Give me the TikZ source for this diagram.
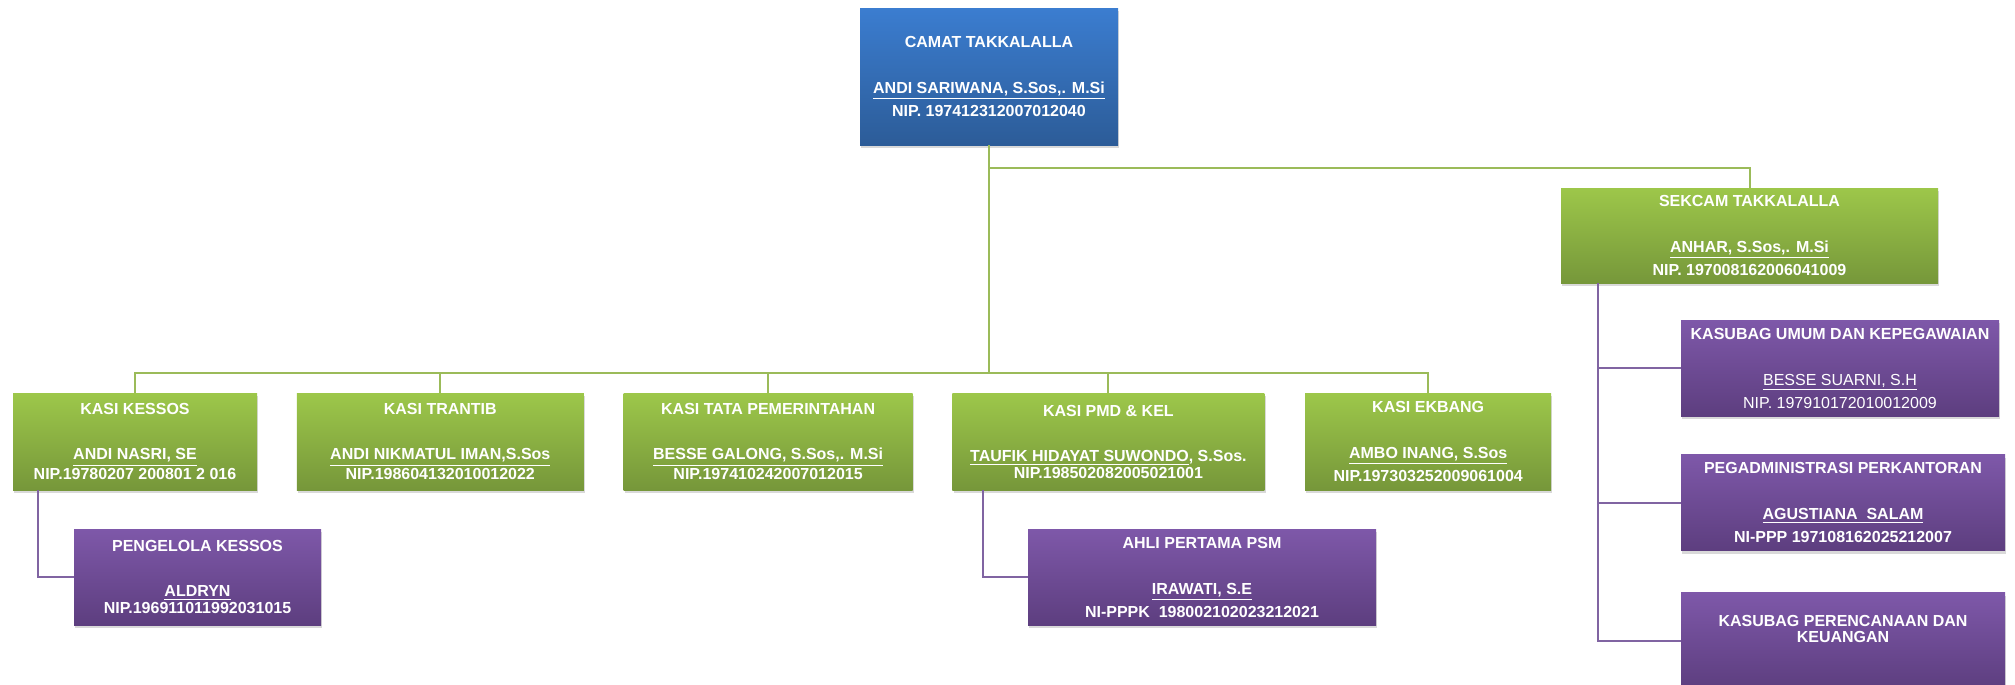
\documentclass[tikz,border=0pt]{standalone}
\usepackage{fontspec}
\setmainfont{Liberation Sans}
\usetikzlibrary{positioning,shadows}
\definecolor{birua}{HTML}{3B7DD0}
\definecolor{birub}{HTML}{2C5C98}
\definecolor{hijaua}{HTML}{9DC74A}
\definecolor{hijaub}{HTML}{76973A}
\definecolor{ungua}{HTML}{7E58A9}
\definecolor{ungub}{HTML}{5D3E7F}
\definecolor{linhijau}{HTML}{9BBB59}
\definecolor{linungu}{HTML}{8064A2}
\tikzset{
  teks/.style={text=white, align=center, inner sep=0pt, font=\bfseries\fontsize{8}{11.5}\selectfont},
  kotak/.style={teks, drop shadow={shadow xshift=0.6pt, shadow yshift=-1.5pt, opacity=0.3}},
  rapat/.style={font=\bfseries\fontsize{8}{8.5}\selectfont},
  biru/.style={kotak, top color=birua, bottom color=birub},
  hijau/.style={kotak, top color=hijaua, bottom color=hijaub},
  ungu/.style={kotak, top color=ungua, bottom color=ungub},
  garishijau/.style={draw=linhijau, line width=1pt},
  garisungu/.style={draw=linungu, line width=1pt},
}

\begin{document}
\begin{tikzpicture}[x=0.5pt,y=-0.5pt]
  \useasboundingbox (0,0) rectangle (2015,685);
  % camat dan sekcam
  \node[biru, minimum width=129pt, minimum height=68.5pt] (camat) at (989,76.5)
    {CAMAT TAKKALALLA\\[11.5pt]\underline{ANDI SARIWANA, S.Sos,. M.Si}\\NIP. 197412312007012040};
  \node[hijau, minimum width=188.5pt, minimum height=47.5pt] (sekcam) at (1749.5,235.5)
    {SEKCAM TAKKALALLA\\[11.5pt]\underline{ANHAR, S.Sos,. M.Si}\\NIP. 197008162006041009};
  % para kasi
  \node[hijau, rapat, minimum width=122pt, minimum height=48.5pt] (kessos) at (135,441.5)
    {KASI KESSOS\\[14pt]\underline{ANDI NASRI, SE}\\NIP.19780207 200801 2 016};
  \node[hijau, rapat, minimum width=143.5pt, minimum height=48.5pt, right=19.5pt of kessos] (trantib)
    {KASI TRANTIB\\[14pt]\underline{ANDI NIKMATUL IMAN,S.Sos}\\NIP.198604132010012022};
  \node[hijau, rapat, minimum width=144.5pt, minimum height=48.5pt, right=19.5pt of trantib] (tapem)
    {KASI TATA PEMERINTAHAN\\[14pt]\underline{BESSE GALONG, S.Sos,. M.Si}\\NIP.197410242007012015};
  \node[hijau, rapat, minimum width=156pt, minimum height=48.5pt, right=19.5pt of tapem] (pmd)
    {KASI PMD \& KEL\\[14pt]\underline{TAUFIK HIDAYAT SUWONDO}, S.Sos.\\NIP.198502082005021001};
  \node[hijau, minimum width=123pt, minimum height=48.5pt, right=20pt of pmd] (ekbang)
    {KASI EKBANG\\[11.5pt]\underline{AMBO INANG, S.Sos}\\NIP.197303252009061004};
  % staf
  \node[ungu, rapat, minimum width=123.5pt, minimum height=48pt] (pengelola) at (197.5,577)
    {PENGELOLA KESSOS\\[14pt]\underline{ALDRYN}\\NIP.196911011992031015};
  \node[ungu, minimum width=174pt, minimum height=48pt] (ahli) at (1202,577)
    {AHLI PERTAMA PSM\\[11.5pt]\underline{IRAWATI, S.E}\\NI-PPPK\ \ 198002102023212021};
  % kasubag
  \node[ungu, minimum width=159pt, minimum height=48pt] (umum) at (1840,368)
    {KASUBAG UMUM DAN KEPEGAWAIAN\\[11.5pt]{\mdseries\underline{BESSE SUARNI, S.H}}\\{\mdseries NIP. 197910172010012009}};
  \node[ungu, minimum width=162pt, minimum height=48pt, below=19pt of umum.south west, anchor=north west] (pegadm)
    {PEGADMINISTRASI PERKANTORAN\\[11.5pt]\underline{AGUSTIANA\ \ SALAM}\\NI-PPP 197108162025212007};
  \node[ungu, minimum width=162pt, minimum height=48pt, below=20.5pt of pegadm.south west, anchor=north west] (rencana) {};
  \node[teks, font=\bfseries\fontsize{8}{8}\selectfont] (rencanateks) at ([yshift=6pt]rencana.center)
    {KASUBAG PERENCANAAN DAN\\KEUANGAN};
  % garis
  \coordinate (cabang) at (989,168);
  \coordinate (bus) at (989,373);
  \draw[garishijau] (camat) -- (bus);
  \draw[garishijau] (cabang) -| (sekcam);
  \foreach \anak in {kessos,trantib,tapem,pmd,ekbang}
    \draw[garishijau] (bus) -| (\anak);
  \draw[garisungu] ([xshift=12.5pt]kessos.south west) |- (pengelola);
  \draw[garisungu] ([xshift=15.5pt]pmd.south west) |- (ahli);
  \foreach \anak in {umum,pegadm,rencana}
    \draw[garisungu] ([xshift=18.5pt]sekcam.south west) |- (\anak);
\end{tikzpicture}
\end{document}
